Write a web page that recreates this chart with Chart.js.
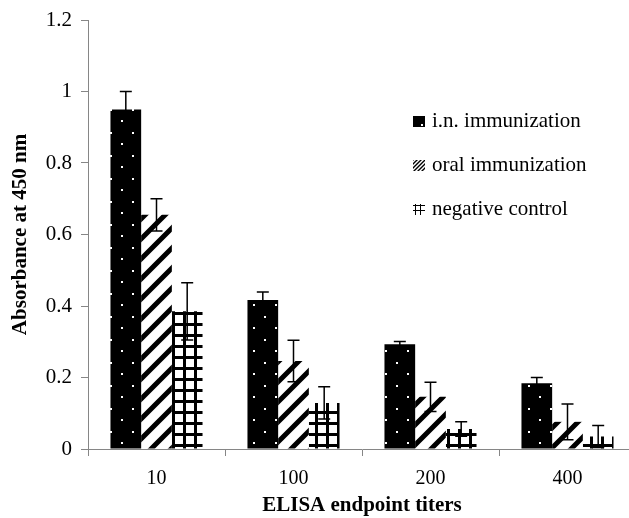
<!DOCTYPE html>
<html>
<head>
<meta charset="utf-8">
<script src="https://cdn.jsdelivr.net/npm/chart.js@4.4.1/dist/chart.umd.min.js"></script>
<style>
  html, body { margin: 0; padding: 0; background: #fff; overflow: hidden; }
  #wrap { width: 629px; height: 518px; overflow: hidden; }
</style>
</head>
<body>
<div id="wrap"><canvas id="chart" width="640" height="524"></canvas></div>
<script>
const categories = ['10', '100', '200', '400'];
const seriesNames = ['i.n. immunization', 'oral immunization', 'negative control'];
const inValues = [0.95, 0.417, 0.293, 0.184];
const inErr = [0.05, 0.022, 0.008, 0.016];
const oralValues = [0.655, 0.246, 0.146, 0.076];
const oralErr = [0.045, 0.058, 0.041, 0.05];
const negValues = [0.385, 0.129, 0.056, 0.035];
const negErr = [0.08, 0.045, 0.02, 0.031];
const yTicks = [0, 0.2, 0.4, 0.6, 0.8, 1, 1.2];

const FONT = '"Liberation Serif", "Times New Roman", serif';
const AXIS_GREY = '#868686';

// patterns for the bar fills
function makePattern(w, h, draw) {
    const c = document.createElement('canvas');
    c.width = w; c.height = h;
    const g = c.getContext('2d');
    draw(g);
    return document.getElementById('chart').getContext('2d').createPattern(c, 'repeat');
}

function stripes(size, lw) {
    return g => {
        g.fillStyle = '#fff';
        g.fillRect(0, 0, size, size);
        g.strokeStyle = '#000';
        g.lineWidth = lw;
        g.beginPath();
        g.moveTo(-size / 2, size / 2); g.lineTo(size / 2, -size / 2);
        g.moveTo(0, size); g.lineTo(size, 0);
        g.moveTo(size / 2, size * 1.5); g.lineTo(size * 1.5, size / 2);
        g.stroke();
    };
}

const dotFill = makePattern(22, 23, g => {
    g.fillStyle = '#000';
    g.fillRect(0, 0, 22, 23);
    g.fillStyle = '#fff';
    g.fillRect(11, 5, 2, 2);
    g.fillRect(0, 17, 2, 2);
});
const stripeFill = makePattern(20, 20, stripes(20, 5));
const gridFill = makePattern(11, 11, g => {
    g.fillStyle = '#fff';
    g.fillRect(0, 0, 11, 11);
    g.fillStyle = '#000';
    g.fillRect(7, 0, 3, 11);
    g.fillRect(0, 4, 11, 3);
});

// smaller versions for the legend keys
const legendKeys = [
    makePattern(12, 12, g => {
        g.fillStyle = '#000';
        g.fillRect(0, 0, 12, 12);
        g.fillStyle = '#fff';
        g.fillRect(8, 8, 2, 2);
    }),
    makePattern(4, 4, stripes(4, 1.4)),
    makePattern(5, 5, g => {
        g.fillStyle = '#fff';
        g.fillRect(0, 0, 5, 5);
        g.fillStyle = '#000';
        g.fillRect(2, 0, 1, 5);
        g.fillRect(0, 1, 5, 1);
    })
];

const errors = [inErr, oralErr, negErr];

// error bars drawn over the bars
const errorBars = {
    id: 'errorBars',
    afterDatasetsDraw(chart) {
        const ctx = chart.ctx;
        const y = chart.scales.y;
        ctx.save();
        ctx.strokeStyle = '#000';
        ctx.lineWidth = 1.5;
        chart.data.datasets.forEach((ds, i) => {
            chart.getDatasetMeta(i).data.forEach((bar, j) => {
                const v = ds.data[j], e = errors[i][j];
                const top = y.getPixelForValue(v + e);
                const bot = y.getPixelForValue(v - e);
                ctx.beginPath();
                ctx.moveTo(bar.x, top); ctx.lineTo(bar.x, bot);
                ctx.moveTo(bar.x - 6, top); ctx.lineTo(bar.x + 6, top);
                ctx.moveTo(bar.x - 6, bot); ctx.lineTo(bar.x + 6, bot);
                ctx.stroke();
            });
        });
        ctx.restore();
    }
};

// legend sits inside the plot, to the right
const innerLegend = {
    id: 'innerLegend',
    afterDraw(chart) {
        const ctx = chart.ctx;
        ctx.save();
        ctx.font = '21px ' + FONT;
        ctx.textBaseline = 'middle';
        const rows = [121, 165, 209];
        chart.data.datasets.forEach((ds, i) => {
            ctx.save();
            ctx.translate(413, rows[i] - 5);
            ctx.fillStyle = legendKeys[i];
            ctx.fillRect(0, 0, 12, 11);
            ctx.restore();
            ctx.fillStyle = '#000';
            ctx.fillText(ds.label, 432, rows[i]);
        });
        ctx.restore();
    }
};

new Chart(document.getElementById('chart'), {
    type: 'bar',
    data: {
        labels: categories,
        datasets: [
            { label: seriesNames[0], data: inValues, backgroundColor: dotFill },
            { label: seriesNames[1], data: oralValues, backgroundColor: stripeFill },
            { label: seriesNames[2], data: negValues, backgroundColor: gridFill }
        ]
    },
    options: {
        responsive: false,
        animation: false,
        layout: { padding: { top: 20, right: 4, left: 0, bottom: 0 } },
        datasets: { bar: { barPercentage: 1, categoryPercentage: 0.672, borderWidth: 0 } },
        plugins: { legend: { display: false }, tooltip: { enabled: false } },
        scales: {
            x: {
                grid: { drawOnChartArea: false, tickLength: 7, color: AXIS_GREY },
                border: { color: AXIS_GREY },
                ticks: { color: '#000', font: { family: FONT, size: 20 }, padding: 11 },
                title: { display: true, text: 'ELISA endpoint titers', color: '#000',
                         font: { family: FONT, size: 21, weight: 'bold' }, padding: { top: 0, bottom: 6 } },
                afterFit: s => { s.height = 75; }
            },
            y: {
                min: 0, max: 1.2,
                afterBuildTicks: s => { s.ticks = yTicks.map(v => ({ value: v })); },
                grid: { drawOnChartArea: false, tickLength: 7, color: AXIS_GREY },
                border: { color: AXIS_GREY },
                ticks: { color: '#000', font: { family: FONT, size: 21 }, padding: 9,
                         callback: v => String(+v.toFixed(1)) },
                title: { display: true, text: 'Absorbance at 450 nm', color: '#000',
                         font: { family: FONT, size: 21, weight: 'bold' }, padding: { top: 8, bottom: 0 } },
                afterFit: s => { s.width = 88; s.paddingTop = 0; s.paddingBottom = 0; }
            }
        }
    },
    plugins: [errorBars, innerLegend]
});
</script>
</body>
</html>
